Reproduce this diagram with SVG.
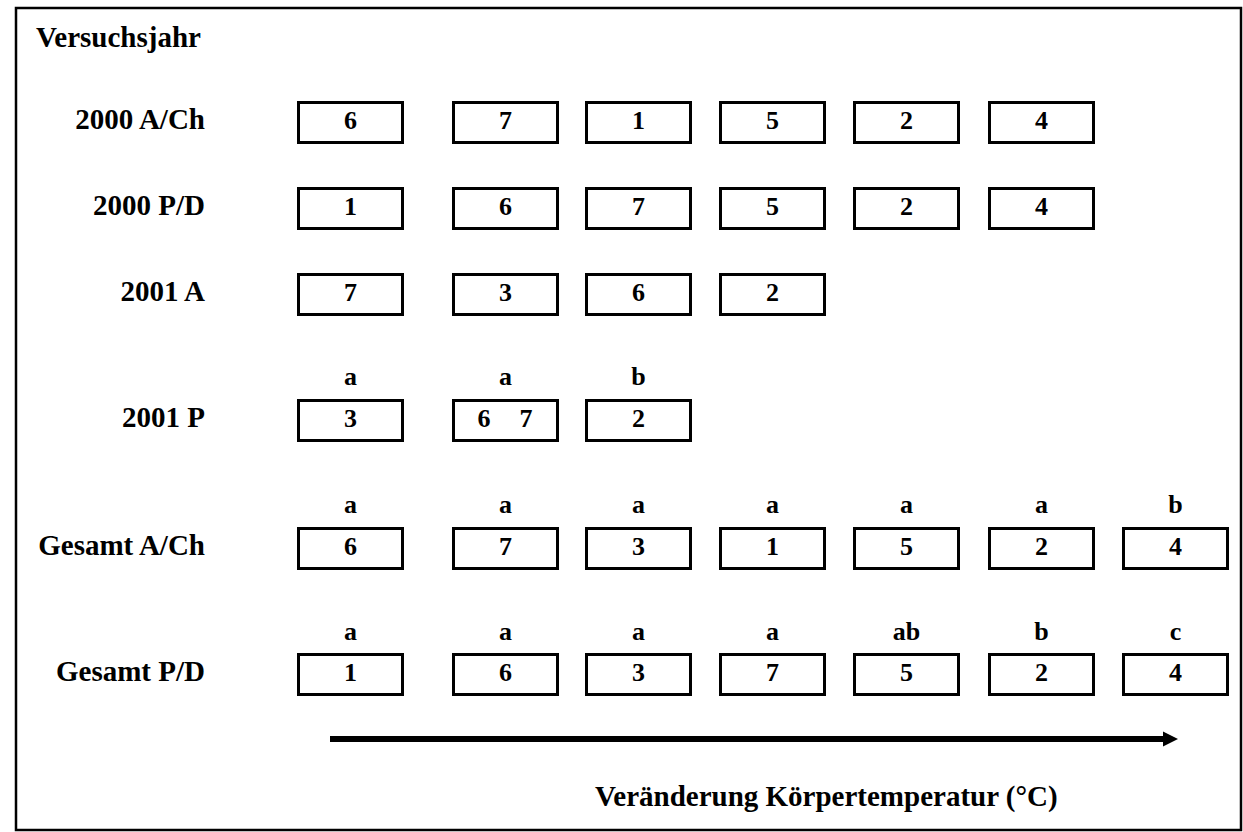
<svg xmlns="http://www.w3.org/2000/svg" width="1243" height="832" viewBox="0 0 1243 832">
<style>
text{font-family:"Liberation Serif","Times New Roman",serif;font-weight:bold;fill:#000}
.lbl{font-size:29px;text-anchor:end}
.num{font-size:26px;text-anchor:middle}
.sig{font-size:26px;text-anchor:middle}
.box{fill:#fff;stroke:#000;stroke-width:3}
</style>
<defs>
<marker id="ah" markerWidth="15" markerHeight="16" refX="0" refY="8" orient="auto" markerUnits="userSpaceOnUse">
<path d="M0,0.5 L15,8 L0,15.5 Z" fill="#000"/>
</marker>
</defs>
<rect x="0" y="0" width="1243" height="832" fill="#fff"/>
<rect x="16" y="8" width="1225" height="822" fill="none" stroke="#000" stroke-width="2.5"/>
<g id="headers">
<text x="36" y="47" style="font-size:29px">Versuchsjahr</text>
<text class="lbl" x="205" y="129">2000 A/Ch</text>
<text class="lbl" x="205" y="215">2000 P/D</text>
<text class="lbl" x="205" y="301">2001 A</text>
<text class="lbl" x="205" y="427">2001 P</text>
<text class="lbl" x="205" y="555">Gesamt A/Ch</text>
<text class="lbl" x="205" y="681">Gesamt P/D</text>
</g>
<g id="row1">
<g id="r1c1"><rect class="box" x="298.5" y="102.5" width="104" height="40"/><text class="num" x="350.5" y="129">6</text></g>
<g id="r1c2"><rect class="box" x="453.5" y="102.5" width="104" height="40"/><text class="num" x="505.5" y="129">7</text></g>
<g id="r1c3"><rect class="box" x="586.5" y="102.5" width="104" height="40"/><text class="num" x="638.5" y="129">1</text></g>
<g id="r1c4"><rect class="box" x="720.5" y="102.5" width="104" height="40"/><text class="num" x="772.5" y="129">5</text></g>
<g id="r1c5"><rect class="box" x="854.5" y="102.5" width="104" height="40"/><text class="num" x="906.5" y="129">2</text></g>
<g id="r1c6"><rect class="box" x="989.5" y="102.5" width="104" height="40"/><text class="num" x="1041.5" y="129">4</text></g>
</g>
<g id="row2">
<g id="r2c1"><rect class="box" x="298.5" y="188.5" width="104" height="40"/><text class="num" x="350.5" y="215">1</text></g>
<g id="r2c2"><rect class="box" x="453.5" y="188.5" width="104" height="40"/><text class="num" x="505.5" y="215">6</text></g>
<g id="r2c3"><rect class="box" x="586.5" y="188.5" width="104" height="40"/><text class="num" x="638.5" y="215">7</text></g>
<g id="r2c4"><rect class="box" x="720.5" y="188.5" width="104" height="40"/><text class="num" x="772.5" y="215">5</text></g>
<g id="r2c5"><rect class="box" x="854.5" y="188.5" width="104" height="40"/><text class="num" x="906.5" y="215">2</text></g>
<g id="r2c6"><rect class="box" x="989.5" y="188.5" width="104" height="40"/><text class="num" x="1041.5" y="215">4</text></g>
</g>
<g id="row3">
<g id="r3c1"><rect class="box" x="298.5" y="274.5" width="104" height="40"/><text class="num" x="350.5" y="301">7</text></g>
<g id="r3c2"><rect class="box" x="453.5" y="274.5" width="104" height="40"/><text class="num" x="505.5" y="301">3</text></g>
<g id="r3c3"><rect class="box" x="586.5" y="274.5" width="104" height="40"/><text class="num" x="638.5" y="301">6</text></g>
<g id="r3c4"><rect class="box" x="720.5" y="274.5" width="104" height="40"/><text class="num" x="772.5" y="301">2</text></g>
</g>
<g id="row4">
<g id="r4c1"><text class="sig" x="350.5" y="385">a</text><rect class="box" x="298.5" y="400.5" width="104" height="40"/><text class="num" x="350.5" y="427">3</text></g>
<g id="r4c2"><text class="sig" x="505.5" y="385">a</text><rect class="box" x="453.5" y="400.5" width="104" height="40"/><text class="num" x="484" y="427">6</text><text class="num" x="526" y="427">7</text></g>
<g id="r4c3"><text class="sig" x="638.5" y="385">b</text><rect class="box" x="586.5" y="400.5" width="104" height="40"/><text class="num" x="638.5" y="427">2</text></g>
</g>
<g id="row5">
<g id="r5c1"><text class="sig" x="350.5" y="513">a</text><rect class="box" x="298.5" y="528.5" width="104" height="40"/><text class="num" x="350.5" y="555">6</text></g>
<g id="r5c2"><text class="sig" x="505.5" y="513">a</text><rect class="box" x="453.5" y="528.5" width="104" height="40"/><text class="num" x="505.5" y="555">7</text></g>
<g id="r5c3"><text class="sig" x="638.5" y="513">a</text><rect class="box" x="586.5" y="528.5" width="104" height="40"/><text class="num" x="638.5" y="555">3</text></g>
<g id="r5c4"><text class="sig" x="772.5" y="513">a</text><rect class="box" x="720.5" y="528.5" width="104" height="40"/><text class="num" x="772.5" y="555">1</text></g>
<g id="r5c5"><text class="sig" x="906.5" y="513">a</text><rect class="box" x="854.5" y="528.5" width="104" height="40"/><text class="num" x="906.5" y="555">5</text></g>
<g id="r5c6"><text class="sig" x="1041.5" y="513">a</text><rect class="box" x="989.5" y="528.5" width="104" height="40"/><text class="num" x="1041.5" y="555">2</text></g>
<g id="r5c7"><text class="sig" x="1175.5" y="513">b</text><rect class="box" x="1123.5" y="528.5" width="104" height="40"/><text class="num" x="1175.5" y="555">4</text></g>
</g>
<g id="row6">
<g id="r6c1"><text class="sig" x="350.5" y="640">a</text><rect class="box" x="298.5" y="654.5" width="104" height="40"/><text class="num" x="350.5" y="681">1</text></g>
<g id="r6c2"><text class="sig" x="505.5" y="640">a</text><rect class="box" x="453.5" y="654.5" width="104" height="40"/><text class="num" x="505.5" y="681">6</text></g>
<g id="r6c3"><text class="sig" x="638.5" y="640">a</text><rect class="box" x="586.5" y="654.5" width="104" height="40"/><text class="num" x="638.5" y="681">3</text></g>
<g id="r6c4"><text class="sig" x="772.5" y="640">a</text><rect class="box" x="720.5" y="654.5" width="104" height="40"/><text class="num" x="772.5" y="681">7</text></g>
<g id="r6c5"><text class="sig" x="906.5" y="640">ab</text><rect class="box" x="854.5" y="654.5" width="104" height="40"/><text class="num" x="906.5" y="681">5</text></g>
<g id="r6c6"><text class="sig" x="1041.5" y="640">b</text><rect class="box" x="989.5" y="654.5" width="104" height="40"/><text class="num" x="1041.5" y="681">2</text></g>
<g id="r6c7"><text class="sig" x="1175.5" y="640">c</text><rect class="box" x="1123.5" y="654.5" width="104" height="40"/><text class="num" x="1175.5" y="681">4</text></g>
</g>
<g id="connectors">
<line x1="330" y1="739" x2="1163" y2="739" stroke="#000" stroke-width="6" marker-end="url(#ah)"/>
</g>
<g id="axis-label">
<text x="595" y="806" style="font-size:29px">Veränderung Körpertemperatur (°C)</text>
</g>
</svg>
